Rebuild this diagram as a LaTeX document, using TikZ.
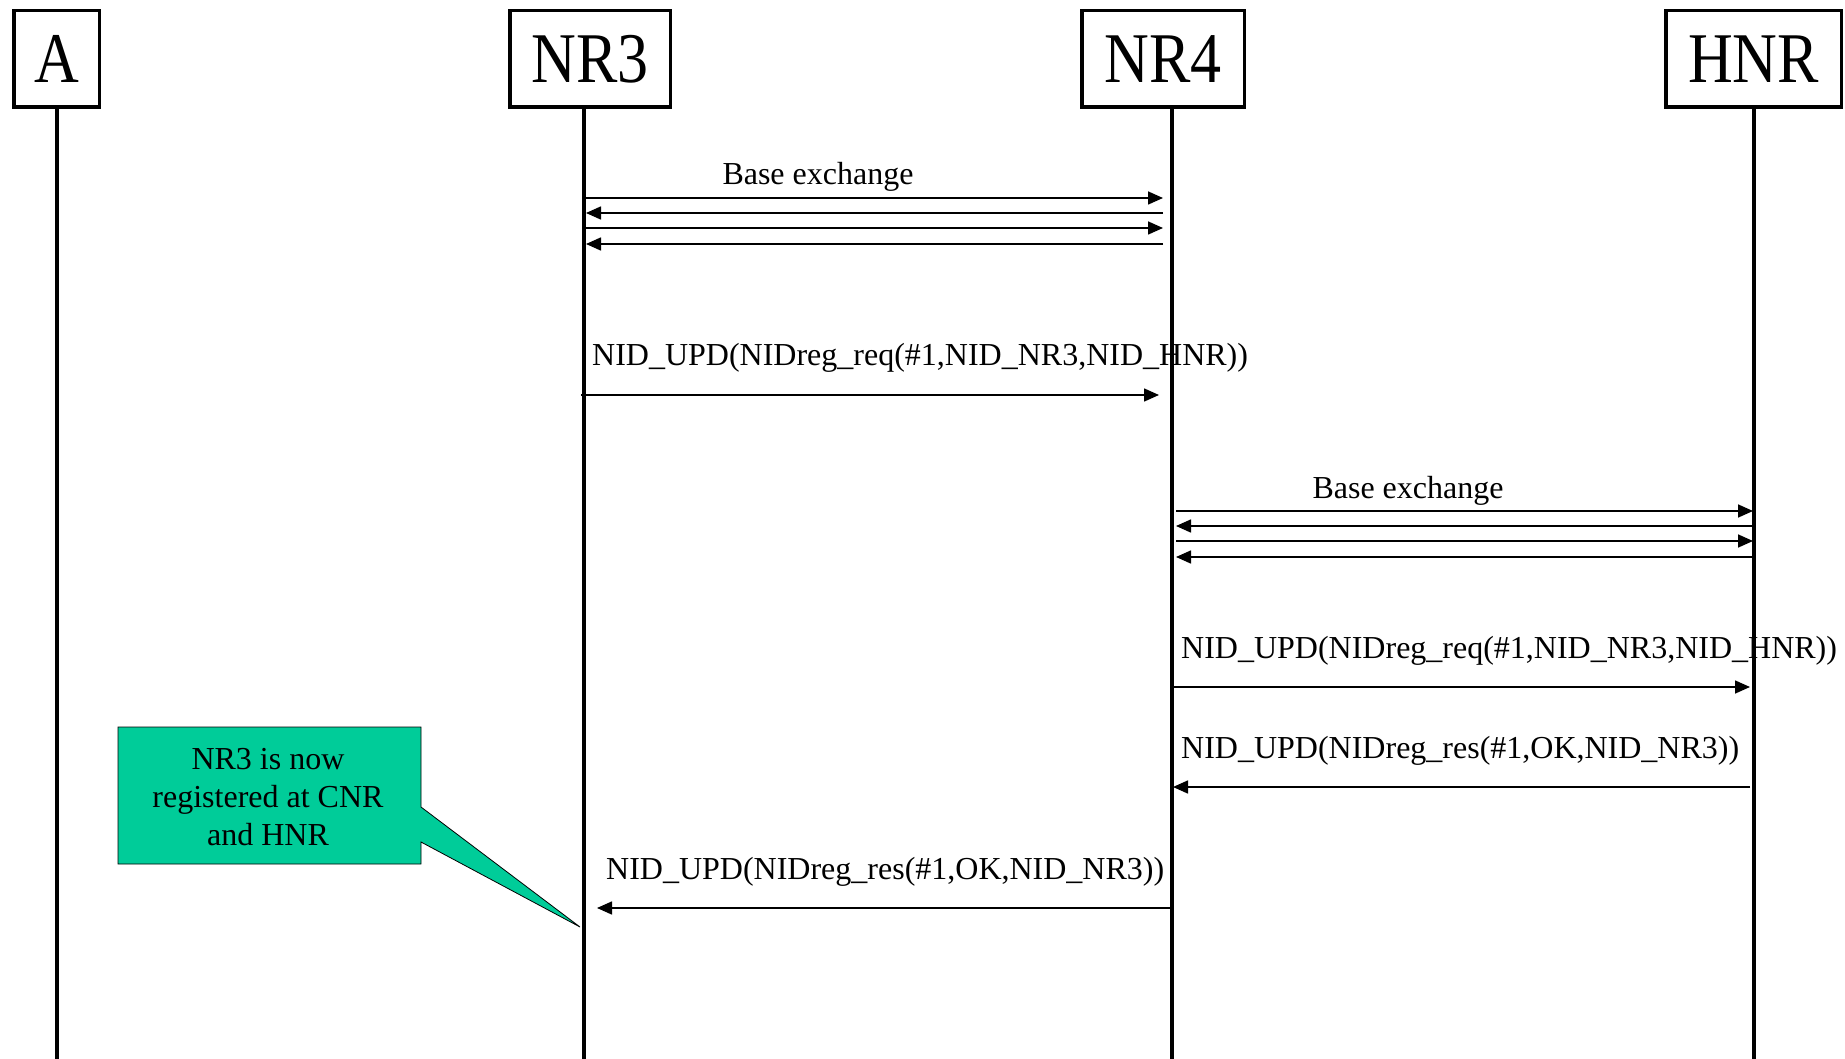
\documentclass[tikz,border=0pt]{standalone}
\usepackage{fontspec}
\setmainfont{Liberation Serif}
\usetikzlibrary{arrows.meta,calc}
\definecolor{calloutgreen}{RGB}{0,204,153}
\begin{document}
\begin{tikzpicture}[x=1pt,y=-1pt,
  actor/.style={draw, line width=3.5pt, fill=white, inner sep=0pt, minimum height=96.5pt,
    font=\fontsize{62}{62}\selectfont},
  life/.style={line width=3.5pt},
  msg/.style={line width=1.6pt, -{Triangle[length=15pt,width=13pt]}},
  lbl/.style={font=\fontsize{32}{38}\selectfont, inner sep=0pt},
  callout/.style={draw=black, line width=0.8pt, fill=calloutgreen},
]
\useasboundingbox (0,0) rectangle (1845,1059);

% actors
\node[actor, minimum width=85.5pt]  (A)   at (56.5,59)  {\scalebox{1}[1.15]{A}};
\node[actor, minimum width=160.5pt] (NR3) at (590,59)   {\scalebox{1}[1.15]{NR3}};
\node[actor, minimum width=162.5pt] (NR4) at (1163,59)  {\scalebox{1}[1.15]{NR4}};
\node[actor, minimum width=175.5pt] (HNR) at (1753.5,59){\scalebox{1}[1.15]{HNR}};

% lifeline anchors
\coordinate (LA)  at (57,109);   \coordinate (LAe)  at (57,1059);
\coordinate (LN3) at (584,109);  \coordinate (LN3e) at (584,1059);
\coordinate (LN4) at (1172,109); \coordinate (LN4e) at (1172,1059);
\coordinate (LH)  at (1754,109); \coordinate (LHe)  at (1754,1059);

% callout
\path[callout] (118,727) -- (421,727) -- (421,807) -- (580,927) -- (421,842)
  -- (421,864) -- (118,864) -- cycle;
\node[lbl, align=center] (note) at (268,797) {NR3 is now\\registered at CNR\\and HNR};

% labels
\node[lbl, anchor=base] (be1) at (818,185) {Base exchange};
\node[lbl, anchor=base west] (r1) at (592,366) {NID\_UPD(NIDreg\_req(\#1,NID\_NR3,NID\_HNR))};
\node[lbl, anchor=base] (be2) at (1408,498) {Base exchange};
\node[lbl, anchor=base west] (r2) at (1181,658) {NID\_UPD(NIDreg\_req(\#1,NID\_NR3,NID\_HNR))};
\node[lbl, anchor=base west] (s1) at (1181,758) {NID\_UPD(NIDreg\_res(\#1,OK,NID\_NR3))};
\node[lbl, anchor=base west] (s2) at (606,879) {NID\_UPD(NIDreg\_res(\#1,OK,NID\_NR3))};

% lifelines
\draw[life] (LA) -- (LAe);
\draw[life] (LN3) -- (LN3e);
\draw[life] (LN4) -- (LN4e);
\draw[life] (LH) -- (LHe);

% base exchange NR3 <-> NR4
\draw[msg] (LN3 |- 0,198) -- ($(LN4 |- 0,198)+(-9,0)$);
\draw[msg] ($(LN4 |- 0,213)+(-9,0)$) -- ($(LN3 |- 0,213)+(2,0)$);
\draw[msg] (LN3 |- 0,228) -- ($(LN4 |- 0,228)+(-9,0)$);
\draw[msg] ($(LN4 |- 0,244)+(-9,0)$) -- ($(LN3 |- 0,244)+(2,0)$);

% request NR3 -> NR4
\draw[msg] ($(LN3 |- 0,395)+(-3,0)$) -- ($(LN4 |- 0,395)+(-13,0)$);

% base exchange NR4 <-> HNR
\draw[msg] ($(LN4 |- 0,511)+(4,0)$) -- ($(LH |- 0,511)+(-1,0)$);
\draw[msg] (LH |- 0,526) -- ($(LN4 |- 0,526)+(4,0)$);
\draw[msg] ($(LN4 |- 0,541)+(4,0)$) -- ($(LH |- 0,541)+(-1,0)$);
\draw[msg] (LH |- 0,557) -- ($(LN4 |- 0,557)+(4,0)$);

% request NR4 -> HNR
\draw[msg] (LN4 |- 0,687) -- ($(LH |- 0,687)+(-4,0)$);
% response HNR -> NR4
\draw[msg] ($(LH |- 0,787)+(-4,0)$) -- ($(LN4 |- 0,787)+(1,0)$);
% response NR4 -> NR3
\draw[msg] (LN4 |- 0,908) -- ($(LN3 |- 0,908)+(13,0)$);
\end{tikzpicture}
\end{document}
